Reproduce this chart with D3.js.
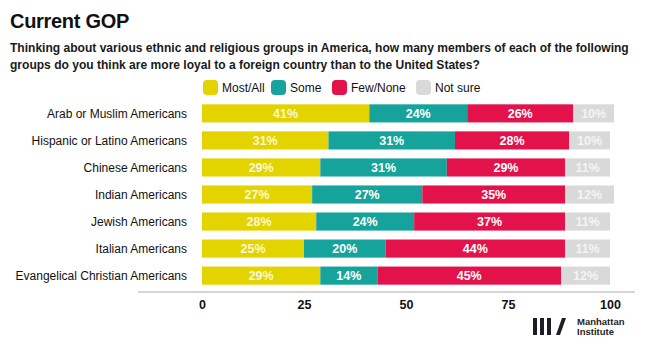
<!DOCTYPE html>
<html><head><meta charset="utf-8">
<script src="https://cdn.jsdelivr.net/npm/d3@7"></script>
<style>
html,body{margin:0;padding:0;background:#fff;}
svg{display:block;font-family:"Liberation Sans",Arial,Helvetica,sans-serif;}
</style></head>
<body>
<svg id="chart" width="646" height="356"></svg>
<script>
const categories = ["Arab or Muslim Americans","Hispanic or Latino Americans","Chinese Americans","Indian Americans","Jewish Americans","Italian Americans","Evangelical Christian Americans"];
const seriesNames = ["Most/All","Some","Few/None","Not sure"];
const mostAll = [41,31,29,27,28,25,29];
const some = [24,31,31,27,24,20,14];
const fewNone = [26,28,29,35,37,44,45];
const notSure = [10,10,11,12,11,11,12];
const tickValues = [0,25,50,75,100];
const colors = ["#e3d400","#16a39b","#e3124b","#d9d9d9"];

const svg = d3.select("#chart");
svg.append("text").attr("x",10).attr("y",28).attr("font-size",20).attr("font-weight","bold").attr("fill","#111").attr("letter-spacing","-0.3").text("Current GOP");
const sub = ["Thinking about various ethnic and religious groups in America, how many members of each of the following","groups do you think are more loyal to a foreign country than to the United States?"];
const subT = svg.append("g");
sub.forEach((s,i)=>subT.append("text").attr("x",10).attr("y",52+i*17).attr("font-size",12.05).attr("font-weight","bold").attr("fill","#1a1a1a").text(s));

const x = d3.scaleLinear().domain([0,100]).range([202,610]);
const y = d3.scaleBand().domain(categories).range([100,289]).paddingInner(0.33).paddingOuter(0.16);

const seriesData = [mostAll,some,fewNone,notSure];
const rows = categories.map((c,i)=>{const o={cat:c}; seriesNames.forEach((s,k)=>o[s]=seriesData[k][i]); return o;});
const stack = d3.stack().keys(seriesNames)(rows);

const g = svg.append("g");
stack.forEach((layer,k)=>{
  const lg = g.append("g");
  lg.selectAll("rect").data(layer).join("rect")
    .attr("x",d=>x(d[0])).attr("width",d=>x(d[1])-x(d[0]))
    .attr("y",d=>y(d.data.cat)).attr("height",y.bandwidth())
    .attr("fill",colors[k]);
  lg.selectAll("text").data(layer).join("text")
    .attr("x",d=>(x(d[0])+x(d[1]))/2).attr("y",d=>y(d.data.cat)+y.bandwidth()/2+4.5)
    .attr("text-anchor","middle").attr("font-size",12.5).attr("font-weight","bold")
    .attr("fill",k===3?"#f4f4f4":"#fff").attr("fill-opacity",k===0?0.85:1)
    .text(d=>(d[1]-d[0])+"%");
});

// category labels
svg.append("g").selectAll("text").data(categories).join("text")
  .attr("x",187).attr("y",d=>y(d)+y.bandwidth()/2+4.5).attr("text-anchor","end")
  .attr("font-size",12).attr("fill","#111").text(d=>d);

// axis
const axis = d3.axisBottom(x).tickValues(tickValues).tickSize(0).tickPadding(8).tickFormat(d3.format("d"));
const ag = svg.append("g").attr("transform","translate(0,292)").call(axis);
ag.select(".domain").remove();
ag.selectAll("text").attr("font-size",12.5).attr("font-weight","bold").attr("fill","#111").attr("font-family","Liberation Sans, Arial, sans-serif");
svg.append("line").attr("x1",138).attr("x2",635).attr("y1",292).attr("y2",292).attr("stroke","#c8c8c8").attr("stroke-width",1.5);

// legend
const legX = [203,271,332,416];
const lg = svg.append("g");
seriesNames.forEach((s,k)=>{
  lg.append("rect").attr("x",legX[k]).attr("y",80).attr("width",15).attr("height",15).attr("rx",4).attr("fill",colors[k]);
  lg.append("text").attr("x",legX[k]+19).attr("y",92).attr("font-size",12).attr("fill","#111").text(s);
});

// logo
const logo = svg.append("g").attr("fill","#1d1d24");
[0,7,14].forEach(dx=>logo.append("rect").attr("x",533+dx).attr("y",318).attr("width",4).attr("height",17));
logo.append("path").attr("d","M556,335 L560,335 L566,318 L562,318 Z");
logo.append("text").attr("x",577).attr("y",325).attr("font-size",9.5).attr("font-weight","bold").text("Manhattan");
logo.append("text").attr("x",577).attr("y",335).attr("font-size",9.5).attr("font-weight","bold").text("Institute");
</script>
</body></html>
